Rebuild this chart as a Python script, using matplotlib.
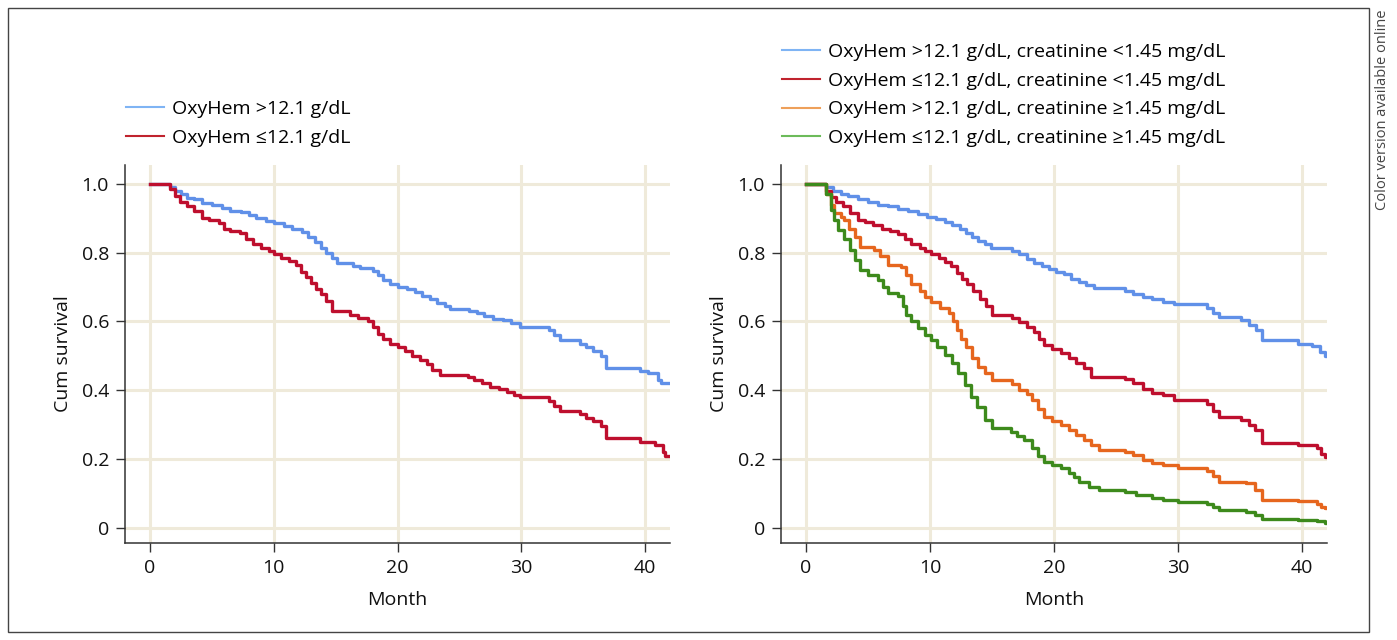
import matplotlib
matplotlib.use('Agg')
import matplotlib.pyplot as plt
from matplotlib.lines import Line2D
from matplotlib.patches import Rectangle

plt.rcParams['font.family'] = ['Open Sans', 'DejaVu Sans']

# ── data ──────────────────────────────────────────────────────────────────────
# left panel: OxyHem >12.1 g/dL
left_hi_t = [0, 1.6, 2.0, 2.5, 3.0, 3.6, 4.2, 5.0, 5.8, 6.5, 7.4, 8.0, 8.6, 9.4,
             10.0, 10.8, 11.5, 12.3, 12.8, 13.3, 13.8, 14.2, 14.7, 15.1, 16.4,
             17.0, 18.0, 18.4, 18.8, 19.4, 20.0, 20.8, 21.4, 22.0, 22.6, 23.2,
             23.8, 24.2, 25.8, 26.4, 27.0, 27.7, 28.5, 29.2, 29.9, 32.2, 32.6,
             33.1, 34.7, 35.2, 35.8, 36.4, 36.8, 39.6, 40.2, 41.0, 41.3, 42.0]
left_hi_s = [1.0, 0.99, 0.98, 0.97, 0.96, 0.955, 0.945, 0.94, 0.93, 0.922, 0.918,
             0.91, 0.90, 0.893, 0.885, 0.878, 0.868, 0.86, 0.845, 0.83, 0.815,
             0.80, 0.785, 0.77, 0.762, 0.755, 0.748, 0.735, 0.72, 0.71, 0.70,
             0.695, 0.687, 0.675, 0.665, 0.655, 0.645, 0.635, 0.63, 0.625, 0.615,
             0.608, 0.603, 0.595, 0.585, 0.575, 0.56, 0.545, 0.535, 0.525, 0.515,
             0.50, 0.465, 0.455, 0.45, 0.43, 0.42, 0.42]

# left panel: OxyHem <=12.1 g/dL
left_lo_t = [0, 1.6, 2.0, 2.4, 3.0, 3.6, 4.2, 4.8, 5.6, 6.0, 6.5, 7.3, 7.8, 8.3,
             9.0, 9.6, 10.0, 10.6, 11.2, 11.8, 12.2, 12.6, 13.0, 13.4, 13.8,
             14.2, 14.7, 16.2, 16.8, 17.6, 18.0, 18.4, 18.8, 19.4, 20.0, 20.6,
             21.2, 21.8, 22.4, 22.8, 23.4, 25.7, 26.2, 26.8, 27.5, 28.2, 28.8,
             29.4, 29.9, 32.2, 32.6, 33.1, 34.7, 35.2, 35.8, 36.4, 36.8, 39.6,
             40.8, 41.4, 41.6, 42.0]
left_lo_s = [1.0, 0.985, 0.965, 0.948, 0.935, 0.92, 0.90, 0.895, 0.885, 0.87,
             0.862, 0.857, 0.84, 0.825, 0.815, 0.805, 0.795, 0.785, 0.775, 0.765,
             0.745, 0.73, 0.712, 0.695, 0.68, 0.66, 0.63, 0.62, 0.61, 0.60, 0.585,
             0.565, 0.55, 0.535, 0.525, 0.515, 0.50, 0.488, 0.475, 0.46, 0.445,
             0.44, 0.43, 0.42, 0.41, 0.405, 0.395, 0.385, 0.38, 0.37, 0.355, 0.34,
             0.33, 0.32, 0.31, 0.295, 0.26, 0.25, 0.24, 0.22, 0.21, 0.21]

# right panel: OxyHem >12.1, creatinine <1.45
r_hi_lo_t = [0, 1.6, 2.2, 2.8, 3.4, 4.2, 5.0, 5.8, 6.6, 7.4, 8.2, 9.0, 9.8, 10.5,
             11.2, 11.8, 12.4, 12.9, 13.4, 13.9, 14.4, 14.9, 16.6, 17.2, 17.8,
             18.4, 19.0, 19.6, 20.2, 20.8, 21.4, 22.0, 22.6, 23.2, 25.7, 26.4,
             27.2, 27.9, 28.8, 29.7, 32.3, 32.8, 33.3, 35.1, 35.7, 36.3, 36.8,
             39.7, 40.8, 41.4, 41.8, 42.2]
r_hi_lo_s = [1.0, 0.99, 0.98, 0.972, 0.965, 0.955, 0.948, 0.94, 0.935, 0.928,
             0.92, 0.912, 0.905, 0.898, 0.89, 0.882, 0.87, 0.858, 0.845, 0.835,
             0.825, 0.815, 0.805, 0.795, 0.782, 0.77, 0.76, 0.752, 0.745, 0.738,
             0.725, 0.715, 0.705, 0.697, 0.69, 0.68, 0.672, 0.665, 0.658, 0.65,
             0.64, 0.625, 0.612, 0.603, 0.59, 0.575, 0.545, 0.535, 0.53, 0.51,
             0.50, 0.50]

# right panel: OxyHem <=12.1, creatinine <1.45
r_lo_lo_t = [0, 1.6, 2.0, 2.4, 3.0, 3.6, 4.2, 4.8, 5.4, 6.1, 6.8, 7.4, 8.0, 8.5,
             9.2, 9.6, 10.1, 10.7, 11.2, 11.7, 12.2, 12.6, 13.0, 13.5, 14.0,
             14.5, 15.0, 16.6, 17.2, 17.8, 18.4, 18.8, 19.2, 19.8, 20.6, 21.2,
             21.8, 22.4, 23.0, 25.7, 26.4, 27.2, 27.9, 28.8, 29.7, 32.3, 32.8,
             33.3, 35.1, 35.7, 36.2, 36.8, 39.7, 41.2, 41.5, 41.8, 42.2]
r_lo_lo_s = [1.0, 0.98, 0.962, 0.948, 0.935, 0.915, 0.895, 0.888, 0.88, 0.87,
             0.862, 0.855, 0.84, 0.825, 0.815, 0.805, 0.795, 0.785, 0.772, 0.76,
             0.74, 0.725, 0.71, 0.69, 0.665, 0.645, 0.62, 0.61, 0.598, 0.585,
             0.57, 0.55, 0.532, 0.52, 0.508, 0.495, 0.48, 0.465, 0.44, 0.432,
             0.42, 0.405, 0.392, 0.385, 0.372, 0.36, 0.34, 0.322, 0.315, 0.30,
             0.285, 0.247, 0.24, 0.232, 0.215, 0.205, 0.205]

# right panel: OxyHem >12.1, creatinine >=1.45
r_hi_hi_t = [0, 1.6, 2.0, 2.3, 2.8, 3.1, 3.5, 4.0, 4.4, 5.5, 6.0, 6.6, 7.7, 8.1,
             8.5, 9.2, 9.6, 10.1, 10.8, 11.5, 11.9, 12.2, 12.5, 12.9, 13.4, 13.9,
             14.4, 15.0, 16.6, 17.2, 17.8, 18.2, 18.7, 19.2, 19.8, 20.6, 21.2,
             21.8, 22.4, 23.0, 23.6, 25.7, 26.4, 27.2, 27.9, 28.8, 30.0, 32.3,
             32.8, 33.3, 35.5, 36.2, 36.8, 39.7, 41.2, 41.5, 41.8, 42.2]
r_hi_hi_s = [1.0, 0.97, 0.94, 0.915, 0.905, 0.895, 0.87, 0.845, 0.817, 0.808,
             0.79, 0.765, 0.758, 0.735, 0.708, 0.69, 0.672, 0.657, 0.64, 0.625,
             0.60, 0.575, 0.548, 0.525, 0.495, 0.468, 0.45, 0.43, 0.418, 0.40,
             0.388, 0.372, 0.345, 0.323, 0.31, 0.30, 0.285, 0.27, 0.255, 0.24,
             0.227, 0.222, 0.212, 0.198, 0.189, 0.182, 0.174, 0.165, 0.15, 0.134,
             0.13, 0.11, 0.081, 0.078, 0.07, 0.062, 0.058, 0.058]

# right panel: OxyHem <=12.1, creatinine >=1.45
r_lo_hi_t = [0, 1.6, 2.0, 2.3, 2.6, 3.1, 3.6, 4.0, 4.4, 5.0, 5.8, 6.2, 6.6, 7.4,
             7.8, 8.1, 8.5, 9.0, 9.6, 10.1, 10.6, 11.2, 11.8, 12.3, 12.8, 13.3,
             13.8, 14.4, 15.0, 16.5, 17.0, 17.6, 18.2, 18.7, 19.2, 19.8, 20.6,
             21.2, 21.6, 22.0, 22.8, 23.6, 25.7, 26.6, 27.9, 28.8, 30.0, 32.3,
             32.8, 33.3, 35.5, 36.2, 36.8, 39.7, 41.2, 41.8, 42.2]
r_lo_hi_s = [1.0, 0.97, 0.924, 0.895, 0.866, 0.84, 0.808, 0.78, 0.75, 0.735,
             0.72, 0.70, 0.683, 0.675, 0.645, 0.62, 0.60, 0.58, 0.562, 0.546,
             0.525, 0.503, 0.478, 0.45, 0.415, 0.381, 0.35, 0.314, 0.29, 0.28,
             0.268, 0.256, 0.232, 0.21, 0.192, 0.183, 0.174, 0.16, 0.148, 0.134,
             0.12, 0.11, 0.105, 0.096, 0.087, 0.082, 0.076, 0.07, 0.06, 0.052,
             0.047, 0.038, 0.026, 0.024, 0.02, 0.015, 0.015]

left_labels = ['OxyHem >12.1 g/dL', 'OxyHem \u226412.1 g/dL']
right_labels = ['OxyHem >12.1 g/dL, creatinine <1.45 mg/dL',
                'OxyHem \u226412.1 g/dL, creatinine <1.45 mg/dL',
                'OxyHem >12.1 g/dL, creatinine \u22651.45 mg/dL',
                'OxyHem \u226412.1 g/dL, creatinine \u22651.45 mg/dL']
x_ticks = [0, 10, 20, 30, 40]
y_ticks = [0, 0.2, 0.4, 0.6, 0.8, 1.0]
y_ticklabels = ['0', '0.2', '0.4', '0.6', '0.8', '1.0']

# ── colours ───────────────────────────────────────────────────────────────────
C_BLUE   = '#6090e8'
C_RED    = '#be0f2e'
C_ORANGE = '#e6661e'
C_GREEN  = '#3d8a1c'
C_GRID   = '#efeada'
C_AXIS   = '#333333'
LEG_COLS = ['#7fb4f4', '#c0232e', '#eea05a', '#6cbb5a']

FS = 14
LW = 2.4

fig = plt.figure(figsize=(13.97, 6.40), dpi=100)
W, H = 1397, 640


def px_axes(x0, y_top, x1, y_bot):
    return fig.add_axes([x0 / W, 1 - y_bot / H, (x1 - x0) / W, (y_bot - y_top) / H])


def style(ax):
    ax.set_xlim(-2, 42)
    ax.set_ylim(-0.044, 1.055)
    ax.set_xticks(x_ticks)
    ax.set_yticks(y_ticks)
    ax.set_yticklabels(y_ticklabels)
    ax.grid(True, color=C_GRID, lw=2.2)
    ax.set_axisbelow(True)
    for side in ('top', 'right'):
        ax.spines[side].set_visible(False)
    for side in ('left', 'bottom'):
        ax.spines[side].set_color(C_AXIS)
        ax.spines[side].set_linewidth(1.1)
    ax.tick_params(direction='out', length=6.5, width=1.0, color=C_AXIS,
                   labelsize=FS, pad=5, labelcolor='#111111')
    ax.set_xlabel('Month', fontsize=FS, labelpad=10, color='#111111')
    ax.set_ylabel('Cum survival', fontsize=FS, labelpad=7, color='#111111')


def legend(ax, cols, labels, x_px, top_px):
    handles = [Line2D([], [], color=c, lw=1.5) for c in cols]
    ax.legend(handles, labels, loc='upper left',
              bbox_to_anchor=(x_px / W, 1 - top_px / H),
              bbox_transform=fig.transFigure, frameon=False, fontsize=FS,
              handlelength=1.95, handletextpad=0.42, labelspacing=0.55,
              borderpad=0, borderaxespad=0)


# ── left panel ────────────────────────────────────────────────────────────────
axL = px_axes(125, 165, 670, 543)
style(axL)
axL.step(left_hi_t, left_hi_s, where='post', color=C_BLUE, lw=LW)
axL.step(left_lo_t, left_lo_s, where='post', color=C_RED, lw=LW)
legend(axL, LEG_COLS[:2], left_labels, 126, 100)

# ── right panel ───────────────────────────────────────────────────────────────
axR = px_axes(781, 165, 1327, 543)
style(axR)
axR.step(r_hi_lo_t, r_hi_lo_s, where='post', color=C_BLUE, lw=LW)
axR.step(r_lo_lo_t, r_lo_lo_s, where='post', color=C_RED, lw=LW)
axR.step(r_hi_hi_t, r_hi_hi_s, where='post', color=C_ORANGE, lw=LW)
axR.step(r_lo_hi_t, r_lo_hi_s, where='post', color=C_GREEN, lw=LW)
legend(axR, LEG_COLS, right_labels, 782, 43)

# ── frame and side note ───────────────────────────────────────────────────────
fig.add_artist(Rectangle((8 / W, 1 - 632 / H), (1369 - 8) / W, (632 - 8) / H,
                         transform=fig.transFigure, fill=False, lw=1.0, ec='#444444'))
fig.text(1383 / W, 1 - 10 / H, 'Color version available online', rotation=90,
         ha='center', va='top', fontsize=10.5, color='#444444')

fig.savefig('out.png', dpi=100)
